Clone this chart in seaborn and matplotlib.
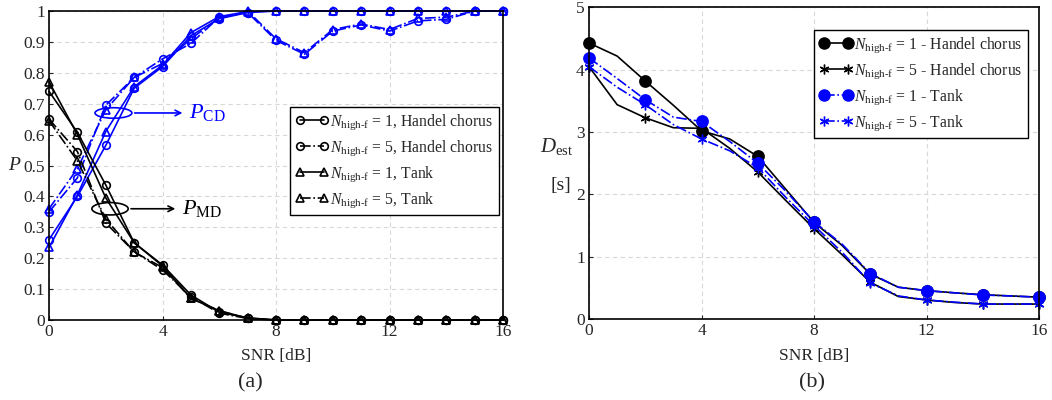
import numpy as np
import pandas as pd
import matplotlib
matplotlib.use("Agg")
import matplotlib.pyplot as plt
import seaborn as sns
from matplotlib.lines import Line2D
from matplotlib.patches import Ellipse

# ---------------- data ----------------
snr = list(range(0, 17))
x_ticks = [0, 4, 8, 12, 16]

# (a) probability of correct detection (blue) and missed detection (black)
pcd_hc1 = [0.26, 0.40, 0.565, 0.75, 0.82, 0.92, 0.975, 0.995, 1, 1, 1, 1, 1, 1, 1, 1, 1]
pcd_hc5 = [0.35, 0.46, 0.695, 0.785, 0.845, 0.895, 0.98, 0.995, 0.905, 0.86, 0.935, 0.955, 0.935, 0.968, 0.973, 1.0, 1.0]
pcd_t1 = [0.235, 0.405, 0.61, 0.755, 0.825, 0.93, 0.982, 0.998, 1, 1, 1, 1, 1, 1, 1, 1, 1]
pcd_t5 = [0.36, 0.49, 0.68, 0.785, 0.83, 0.91, 0.978, 1.0, 0.91, 0.865, 0.94, 0.958, 0.94, 0.976, 0.98, 1.0, 1.0]

pmd_hc1 = [0.74, 0.607, 0.437, 0.25, 0.178, 0.081, 0.025, 0.007, 0, 0, 0, 0, 0, 0, 0, 0, 0]
pmd_hc5 = [0.65, 0.545, 0.314, 0.221, 0.162, 0.075, 0.022, 0.005, 0, 0, 0, 0, 0, 0, 0, 0, 0]
pmd_t1 = [0.771, 0.60, 0.395, 0.25, 0.175, 0.07, 0.03, 0.006, 0, 0, 0, 0, 0, 0, 0, 0, 0]
pmd_t5 = [0.645, 0.515, 0.327, 0.22, 0.17, 0.07, 0.03, 0.005, 0, 0, 0, 0, 0, 0, 0, 0, 0]

# (b) estimated duration [s]
d_hc1 = [4.43, 4.22, 3.82, 3.43, 3.02, 2.89, 2.61, 2.08, 1.55, 1.18, 0.72, 0.51, 0.455, 0.42, 0.39, 0.37, 0.35]
d_hc5 = [4.05, 3.44, 3.23, 3.07, 3.06, 2.74, 2.36, 1.90, 1.45, 1.03, 0.59, 0.36, 0.305, 0.265, 0.24, 0.24, 0.24]
d_t1 = [4.19, 3.86, 3.52, 3.24, 3.17, 2.85, 2.50, 2.05, 1.56, 1.20, 0.73, 0.51, 0.455, 0.42, 0.385, 0.37, 0.35]
d_t5 = [4.05, 3.72, 3.44, 3.12, 2.89, 2.70, 2.43, 1.95, 1.50, 1.07, 0.58, 0.37, 0.305, 0.27, 0.24, 0.24, 0.24]

sub = r"$N_{\mathrm{high‐f}}$"
leg_a = [sub + " = 1, Handel chorus", sub + " = 5, Handel chorus",
         sub + " = 1, Tank", sub + " = 5, Tank"]
leg_b = [sub + " = 1 - Handel chorus", sub + " = 5 - Handel chorus",
         sub + " = 1 - Tank", sub + " = 5 - Tank"]

# ---------------- style ----------------
sns.set_style("ticks")
plt.rcParams["font.family"] = ["Liberation Serif", "DejaVu Serif"]
plt.rcParams["mathtext.fontset"] = "custom"
plt.rcParams["mathtext.rm"] = "Liberation Serif"
plt.rcParams["mathtext.it"] = "Liberation Serif:italic"
plt.rcParams["mathtext.bf"] = "Liberation Serif:bold"

BLUE = "#0000ff"
BLACK = "#000000"
ASTER = (6, 2, 0)

fig = plt.figure(figsize=(10.52, 4.0), dpi=100)
axa = fig.add_axes([0.0466, 0.200, 0.4316, 0.7725])
axb = fig.add_axes([0.5599, 0.2025, 0.4278, 0.7788])

def draw(ax, y, color, ls, marker, ms, mfc, markevery=1, mew=1.2):
    df = pd.DataFrame({"x": snr, "y": y})
    sns.lineplot(data=df, x="x", y="y", ax=ax, color=color, linestyle=ls,
                 marker=marker, markersize=ms, markerfacecolor=mfc,
                 markeredgecolor=color, markeredgewidth=mew, linewidth=1.2,
                 markevery=markevery, legend=False, errorbar=None,
                 clip_on=False, zorder=3)

# ---- (a) ----
for y, ls, mk in [(pcd_hc1, "-", "o"), (pcd_hc5, "-.", "o"),
                  (pcd_t1, "-", "^"), (pcd_t5, "-.", "^")]:
    draw(axa, y, BLUE, ls, mk, 5.5, "none")
for y, ls, mk in [(pmd_hc1, "-", "o"), (pmd_hc5, "-.", "o"),
                  (pmd_t1, "-", "^"), (pmd_t5, "-.", "^")]:
    draw(axa, y, BLACK, ls, mk, 5.5, "none")

axa.set_xlim(0, 16)
axa.set_ylim(0, 1)
axa.set_xticks(x_ticks)
yt = [i / 10 for i in range(11)]
axa.set_yticks(yt)
axa.set_yticklabels([f"{v:g}" for v in yt])
axa.set_xlabel("SNR [dB]", fontsize=12.5, labelpad=6)
axa.set_ylabel("$P$", rotation=0, fontsize=14, labelpad=6, va="center")

axa.add_patch(Ellipse((2.27, 0.67), 1.3, 0.034, fill=False, edgecolor=BLUE, lw=1.2, zorder=5))
axa.annotate("", xy=(4.8, 0.67), xytext=(2.92, 0.67),
             arrowprops=dict(arrowstyle="->", color=BLUE, lw=1.2))
axa.text(4.93, 0.67, r"$P_{\mathrm{CD}}$", color=BLUE, fontsize=16, va="center", ha="left")

axa.add_patch(Ellipse((2.15, 0.36), 1.28, 0.04, fill=False, edgecolor=BLACK, lw=1.2, zorder=5))
axa.annotate("", xy=(4.55, 0.36), xytext=(2.79, 0.36),
             arrowprops=dict(arrowstyle="->", color=BLACK, lw=1.2))
axa.text(4.68, 0.36, r"$P_{\mathrm{MD}}$", color=BLACK, fontsize=16, va="center", ha="left")

ha = [Line2D([], [], color=BLACK, ls="-", marker="o", mfc="none", ms=5.5, mew=1.2, lw=1.2),
      Line2D([], [], color=BLACK, ls="-.", marker="o", mfc="none", ms=5.5, mew=1.2, lw=1.2),
      Line2D([], [], color=BLACK, ls="-", marker="^", mfc="none", ms=5.5, mew=1.2, lw=1.2),
      Line2D([], [], color=BLACK, ls="-.", marker="^", mfc="none", ms=5.5, mew=1.2, lw=1.2)]
la = axa.legend(ha, leg_a, loc="upper right", bbox_to_anchor=(0.99, 0.69),
                borderaxespad=0, numpoints=2, handlelength=2.1, handletextpad=0.1,
                fontsize=11.3, fancybox=False, framealpha=1, edgecolor=BLACK,
                labelspacing=0.4, borderpad=0.35)
la.get_frame().set_linewidth(1.0)
la.set_zorder(10)

# ---- (b) ----
draw(axb, d_hc1, BLACK, "-", "o", 8, BLACK, markevery=2)
draw(axb, d_hc5, BLACK, "-", ASTER, 7, BLACK, markevery=2, mew=1.0)
draw(axb, d_t1, BLUE, "-.", "o", 8, BLUE, markevery=2)
draw(axb, d_t5, BLUE, "-.", ASTER, 7, BLUE, markevery=2, mew=1.0)

axb.set_xlim(0, 16)
axb.set_ylim(0, 5)
axb.set_xticks(x_ticks)
axb.set_yticks([0, 1, 2, 3, 4, 5])
axb.set_xlabel("SNR [dB]", fontsize=12.5, labelpad=6)
axb.set_ylabel("")
axb.text(-0.072, 0.555, r"$D_{\mathrm{est}}$", transform=axb.transAxes,
         fontsize=15, ha="center", va="center")
axb.text(-0.062, 0.43, "[s]", transform=axb.transAxes,
         fontsize=14, ha="center", va="center")

hb = [Line2D([], [], color=BLACK, ls="-", marker="o", mfc=BLACK, ms=8, lw=1.2),
      Line2D([], [], color=BLACK, ls="-", marker=ASTER, ms=7, mew=1.0, lw=1.2),
      Line2D([], [], color=BLUE, ls="-.", marker="o", mfc=BLUE, ms=8, lw=1.2),
      Line2D([], [], color=BLUE, ls="-.", marker=ASTER, ms=7, mew=1.0, lw=1.2)]
lb = axb.legend(hb, leg_b, loc="upper right", bbox_to_anchor=(0.976, 0.928),
                borderaxespad=0, numpoints=2, handlelength=2.1, handletextpad=0.1,
                fontsize=11.3, fancybox=False, framealpha=1, edgecolor=BLACK,
                labelspacing=0.4, borderpad=0.35)
lb.get_frame().set_linewidth(1.0)
lb.set_zorder(10)

for ax in (axa, axb):
    ax.grid(True, color="#d8d8d8", ls=(0, (4, 3)), lw=0.8)
    ax.set_axisbelow(True)
    for s in ax.spines.values():
        s.set_visible(True)
        s.set_color(BLACK)
        s.set_linewidth(1.2)
        s.set_zorder(4)
    ax.tick_params(direction="in", length=3, width=0.8, labelsize=12.5, pad=3,
                   top=False, right=False)

fig.text(0.238, 0.042, "(a)", fontsize=16, ha="center", va="center")
fig.text(0.772, 0.042, "(b)", fontsize=16, ha="center", va="center")

fig.savefig("out.png", dpi=100)
